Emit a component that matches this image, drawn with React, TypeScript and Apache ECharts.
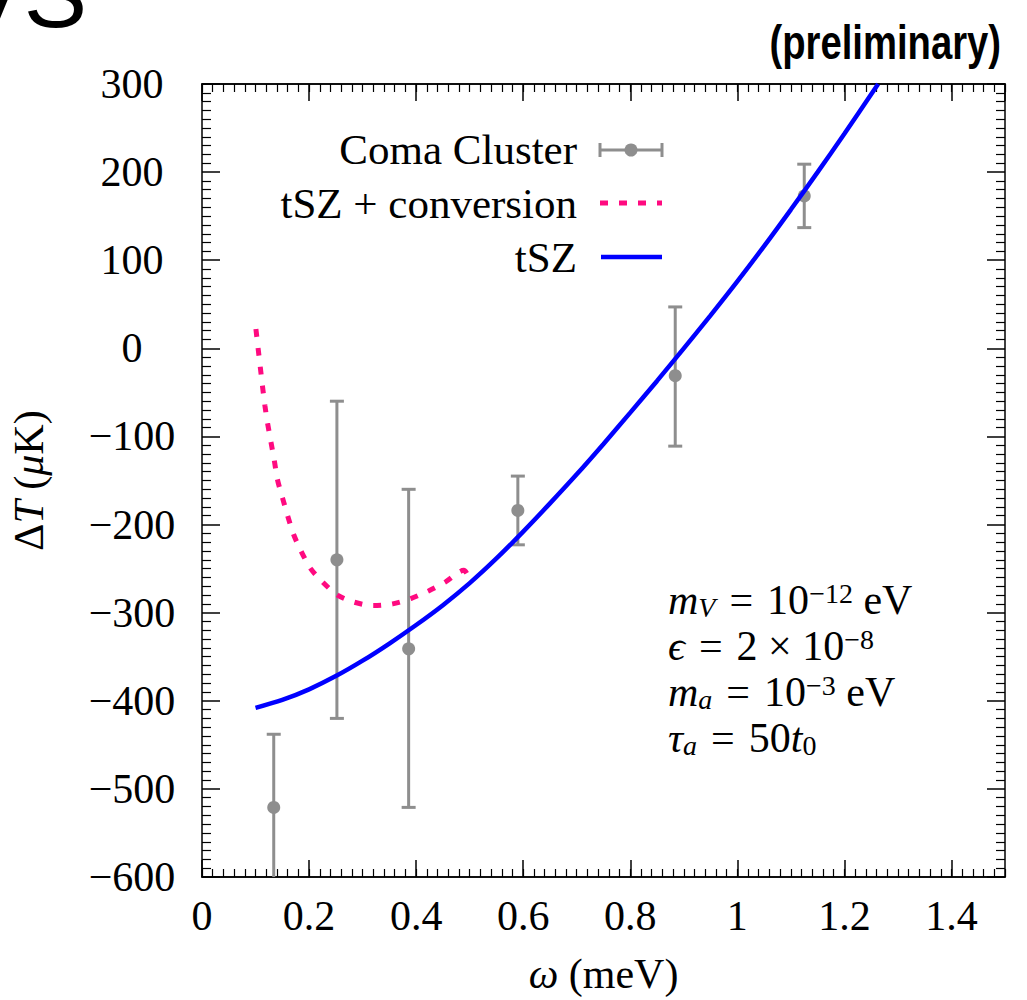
import React, { useEffect, useRef } from 'react';
import * as echarts from 'echarts';

// ---- Data ----
const comaX = [0.134, 0.252, 0.386, 0.59, 0.884, 1.125];
const comaY = [-521, -240, -341, -184, -31, 173];
const comaLow = [-604, -420, -521, -223, -111, 137];
const comaHigh = [-438, -60, -160, -145, 47, 209];

const tszX = [0.1, 0.15, 0.2, 0.25, 0.3, 0.35, 0.4, 0.45, 0.5, 0.55, 0.6, 0.65, 0.7, 0.75, 0.8, 0.85, 0.9, 0.95, 1.0, 1.05, 1.1, 1.15, 1.2, 1.263];
const tszY = [-408, -399, -387, -372, -354.5, -335, -314, -291.5, -266.5, -238.5, -208, -176, -143, -108.5, -73, -37, 0, 37.5, 76, 116, 157.5, 200, 243.5, 300];

const convX = [0.1007, 0.105, 0.109, 0.113, 0.1175, 0.1225, 0.129, 0.135, 0.141, 0.1505, 0.16, 0.171, 0.185, 0.203, 0.225, 0.253, 0.284, 0.32, 0.356, 0.39, 0.424, 0.455, 0.489, 0.5];
const convY = [22, -1, -22, -43, -65, -85, -107, -127, -149, -170, -190, -211, -230, -250, -265, -280, -288, -292, -290, -284, -275, -265, -252, -262];

const xTickLabels = ['0', '0.2', '0.4', '0.6', '0.8', '1', '1.2', '1.4'];
const legendNames = ['Coma Cluster', 'tSZ + conversion', 'tSZ'];

const GRAY = '#8e8e8e';
const PINK = '#ff0a80';
const BLUE = '#0000ff';
const SERIF = '"Liberation Serif", "Times New Roman", serif';
const SANS = '"Liberation Sans", Arial, sans-serif';

export default function App() {
  const ref = useRef<HTMLDivElement>(null);

  useEffect(() => {
    if (!ref.current) return;
    const chart = echarts.init(ref.current, null, { renderer: 'svg' });

    const axisLine = { show: true, onZero: false, lineStyle: { color: '#000', width: 1.5 } };
    const fmtY = (v: number) => (v < 0 ? '\u2212' + Math.abs(v) : String(v));
    const fmtX = (v: number) => {
      const k = Math.round(v * 5);
      if (Math.abs(v * 5 - k) > 1e-6 || k > 7) return '';
      return xTickLabels[k];
    };
    const nameRich = {
      i: { fontFamily: SERIF, fontSize: 42, fontStyle: 'italic', color: '#000' },
      n: { fontFamily: SERIF, fontSize: 42, color: '#000' },
    };

    const minorX = (pos: 'top' | 'bottom') => ({
      type: 'value', position: pos, min: 0, max: 1.5, interval: 0.1,
      axisLine, axisLabel: { show: false }, splitLine: { show: false },
      axisTick: { show: true, inside: true, length: 8, lineStyle: { color: '#000', width: 1.2 } },
      minorTick: { show: true, splitNumber: 5, length: 8, lineStyle: { color: '#000', width: 1.2 } },
    });
    const majorX = (pos: 'top' | 'bottom', labels: boolean) => ({
      type: 'value', position: pos, min: 0, max: 1.5, interval: 0.2,
      axisLine, splitLine: { show: false },
      axisTick: { show: true, inside: true, length: 17, lineStyle: { color: '#000', width: 1.5 } },
      axisLabel: labels
        ? { show: true, showMaxLabel: false, formatter: fmtX, margin: 18, color: '#000', fontFamily: SERIF, fontSize: 42 }
        : { show: false },
      ...(labels
        ? {
            name: '{i|\u03c9}{n| (meV)}', nameLocation: 'middle', nameGap: 76,
            nameTextStyle: { color: '#000', fontFamily: SERIF, fontSize: 42, rich: nameRich },
          }
        : {}),
    });
    const yAx = (pos: 'left' | 'right', labels: boolean) => ({
      type: 'value', position: pos, min: -600, max: 300, interval: 100,
      axisLine, splitLine: { show: false },
      axisTick: { show: true, inside: true, length: 18, lineStyle: { color: '#000', width: 1.5 } },
      minorTick: { show: true, splitNumber: 10, length: 9, lineStyle: { color: '#000', width: 1.2 } },
      axisLabel: labels
        ? { show: true, formatter: fmtY, margin: 70, align: 'center', color: '#000', fontFamily: SERIF, fontSize: 42 }
        : { show: false },
      ...(labels
        ? {
            name: '{n|\u0394}{i|T}{n| (}{i|\u03bc}{n|K)}', nameLocation: 'middle', nameGap: 152,
            nameTextStyle: { color: '#000', fontFamily: SERIF, fontSize: 42, rich: nameRich },
          }
        : {}),
    });

    const richBase = {
      n: { fontFamily: SERIF, fontSize: 42, color: '#000', lineHeight: 42 },
      i: { fontFamily: SERIF, fontSize: 42, fontStyle: 'italic', color: '#000', lineHeight: 42 },
      p: { fontFamily: SERIF, fontSize: 28, color: '#000', lineHeight: 26, verticalAlign: 'top' },
      si: { fontFamily: SERIF, fontSize: 28, fontStyle: 'italic', color: '#000', lineHeight: 26, verticalAlign: 'bottom' },
      s: { fontFamily: SERIF, fontSize: 28, color: '#000', lineHeight: 26, verticalAlign: 'bottom' },
    };
    const annot = (text: string, y: number) => ({
      type: 'text', left: 668, top: y, z: 100,
      style: { text, rich: richBase, fill: '#000', fontFamily: SERIF, fontSize: 42 },
    });

    const legendText = (text: string, y: number) => ({
      type: 'text', x: 577, y, z: 100,
      style: { text, fill: '#000', fontFamily: SERIF, fontSize: 43, align: 'right', verticalAlign: 'middle' },
    });

    const EQ = '\u2004=\u2004';

    chart.setOption({
      animation: false,
      backgroundColor: '#fff',
      grid: { left: 202, top: 84, right: 22, bottom: 116, containLabel: false },
      xAxis: [majorX('bottom', true), minorX('bottom'), majorX('top', false), minorX('top')],
      yAxis: [yAx('left', true), yAx('right', false)],
      series: [
        {
          name: legendNames[0],
          type: 'custom',
          xAxisIndex: 0, yAxisIndex: 0,
          clip: true,
          z: 3,
          data: comaX.map((x, i) => [x, comaY[i], comaLow[i], comaHigh[i]]),
          encode: { x: 0, y: [1, 2, 3] },
          renderItem: (params: any, api: any) => {
            const x = api.value(0);
            const p = api.coord([x, api.value(1)]);
            const lo = api.coord([x, api.value(2)]);
            const hi = api.coord([x, api.value(3)]);
            const cap = 7;
            const st = { stroke: GRAY, lineWidth: 3 };
            return {
              type: 'group',
              children: [
                { type: 'line', shape: { x1: hi[0], y1: hi[1], x2: lo[0], y2: lo[1] }, style: st },
                { type: 'line', shape: { x1: hi[0] - cap, y1: hi[1], x2: hi[0] + cap, y2: hi[1] }, style: st },
                { type: 'line', shape: { x1: lo[0] - cap, y1: lo[1], x2: lo[0] + cap, y2: lo[1] }, style: st },
                { type: 'circle', shape: { cx: p[0], cy: p[1], r: 6.5 }, style: { fill: GRAY } },
              ],
            };
          },
        },
        {
          name: legendNames[1],
          type: 'line', xAxisIndex: 0, yAxisIndex: 0, showSymbol: false, smooth: 0.3, z: 4,
          data: convX.map((x, i) => [x, convY[i]]),
          lineStyle: { color: PINK, width: 5, type: [8, 11], cap: 'butt' },
        },
        {
          name: legendNames[2],
          type: 'line', xAxisIndex: 0, yAxisIndex: 0, showSymbol: false, smooth: 0.3, z: 5,
          data: tszX.map((x, i) => [x, tszY[i]]),
          lineStyle: { color: BLUE, width: 4.5 },
        },
      ],
      graphic: [
        { type: 'text', x: 87, y: -6, style: { text: 'VS', fill: '#000', fontFamily: SANS, fontSize: 95, align: 'right', verticalAlign: 'middle' } },
        { type: 'text', x: 1001, y: 42, scaleX: 0.78, style: { text: '(preliminary)', fill: '#000', fontFamily: SANS, fontWeight: 'bold', fontSize: 49, align: 'right', verticalAlign: 'middle' } },
        legendText(legendNames[0], 149),
        { type: 'line', shape: { x1: 600, y1: 150, x2: 662, y2: 150 }, style: { stroke: GRAY, lineWidth: 3 }, z: 100 },
        { type: 'line', shape: { x1: 600, y1: 143, x2: 600, y2: 157 }, style: { stroke: GRAY, lineWidth: 3 }, z: 100 },
        { type: 'line', shape: { x1: 662, y1: 143, x2: 662, y2: 157 }, style: { stroke: GRAY, lineWidth: 3 }, z: 100 },
        { type: 'circle', shape: { cx: 631, cy: 150, r: 6.5 }, style: { fill: GRAY }, z: 100 },
        legendText(legendNames[1], 203),
        { type: 'line', shape: { x1: 600, y1: 203, x2: 662, y2: 203 }, style: { stroke: PINK, lineWidth: 5, lineDash: [8, 11] }, z: 100 },
        legendText(legendNames[2], 257),
        { type: 'line', shape: { x1: 601, y1: 257, x2: 662, y2: 257 }, style: { stroke: BLUE, lineWidth: 4.5 }, z: 100 },
        annot('{i|m}{si|V}{n|' + EQ + '10}{p|\u221212}{n| eV}', 579),
        annot('{i|\u03f5}{n|' + EQ + '2 \u00d7 10}{p|\u22128}', 625),
        annot('{i|m}{si|a}{n|' + EQ + '10}{p|\u22123}{n| eV}', 671),
        annot('{i|\u03c4}{si|a}{n|' + EQ + '50}{i|t}{s|0}', 717),
      ],
    });

    return () => chart.dispose();
  }, []);

  return <div ref={ref} style={{ position: 'fixed', left: 0, top: 0, width: 1027, height: 1000, background: '#fff' }} />;
}
